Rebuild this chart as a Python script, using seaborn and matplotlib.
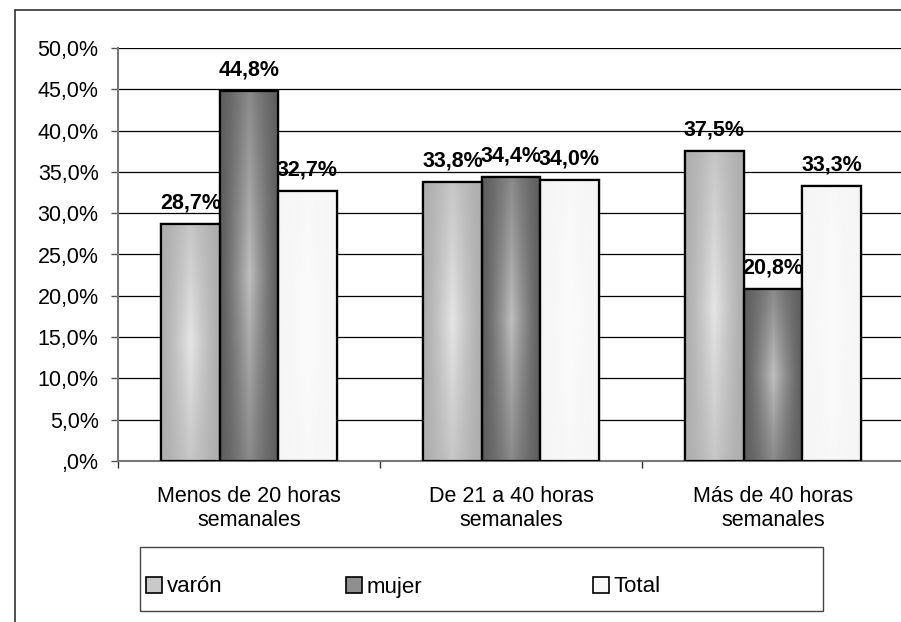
import numpy as np
import pandas as pd
import matplotlib.pyplot as plt
import seaborn as sns
from matplotlib.patches import Rectangle
from matplotlib.lines import Line2D
from matplotlib.ticker import FuncFormatter, FixedLocator

sns.set_theme(style="white")
plt.rcParams["font.family"] = ["Liberation Sans", "DejaVu Sans"]

# --- Daten ---
categories = ["Menos de 20 horas\nsemanales", "De 21 a 40 horas\nsemanales", "Más de 40 horas\nsemanales"]
groups = ["varón", "mujer", "Total"]
varon = [28.7, 33.8, 37.5]
mujer = [44.8, 34.4, 20.8]
total = [32.7, 34.0, 33.3]

df = pd.DataFrame({
    "cat": categories * 3,
    "grupo": [g for g in groups for _ in categories],
    "valor": varon + mujer + total,
})

# (Randfarbe, Mittelfarbe) je Gruppe für den Verlauf
shades = {"varón": (0.68, 0.90), "mujer": (0.37, 0.75), "Total": (0.96, 0.985)}
palette = {g: str(shades[g][0]) for g in groups}

fig = plt.figure(figsize=(9.01, 6.22), dpi=100)
ax = fig.add_axes([118 / 901, 161 / 622, 786 / 901, 413 / 622])

sns.barplot(data=df, x="cat", y="valor", hue="grupo", palette=palette,
            width=0.67, gap=0, edgecolor="black", linewidth=1.6,
            legend=False, ax=ax, zorder=3)


def gradient_img(lo, hi, n=64):
    xx = np.linspace(-1, 1, n)
    yy = np.linspace(-1, 1, n)
    X, Y = np.meshgrid(xx, yy)
    t = (1 - np.abs(X)) * (0.55 + 0.45 * (1 - np.abs(Y)))
    t = np.clip(t, 0, 1) ** 1.3
    return lo + (hi - lo) * t


# Verlauf in die Balken legen
for cont, g in zip(ax.containers, groups):
    lo, hi = shades[g]
    img = gradient_img(lo, hi)
    for bar in cont:
        x0, y0 = bar.get_x(), bar.get_y()
        w, h = bar.get_width(), bar.get_height()
        im = ax.imshow(img, cmap="gray", vmin=0, vmax=1, aspect="auto",
                       extent=[x0, x0 + w, y0, y0 + h], zorder=3.5,
                       interpolation="bilinear")
        im.set_clip_path(bar)
        edge = Rectangle((x0, y0), w, h, fill=False, edgecolor="black",
                         linewidth=1.6, zorder=4)
        ax.add_patch(edge)
    labels = [f"{v:.1f}%".replace(".", ",") for v in cont.datavalues]
    for bar, lab in zip(cont, labels):
        ax.annotate(lab, (bar.get_x() + bar.get_width() / 2, bar.get_height()),
                    xytext=(0, 11), textcoords="offset points", ha="center",
                    va="baseline", fontsize=15.5, fontweight="bold",
                    color="black", zorder=5)

ax.set_xlim(-0.5, 2.5)
ax.set_ylim(0, 50)
ax.yaxis.set_major_locator(FixedLocator(np.arange(0, 50.1, 5)))


def pct(v, pos):
    s = f"{v:.1f}%".replace(".", ",")
    return ",0%" if v == 0 else s


ax.yaxis.set_major_formatter(FuncFormatter(pct))
ax.grid(axis="y", color="black", linewidth=0.9, zorder=0)
ax.set_axisbelow(True)
ax.set_xlabel("")
ax.set_ylabel("")

for s in ["top", "right"]:
    ax.spines[s].set_visible(False)
ax.spines["left"].set_color("#777777")
ax.spines["left"].set_linewidth(1.5)
ax.spines["bottom"].set_color("#777777")
ax.spines["bottom"].set_linewidth(1.5)

ax.tick_params(axis="y", left=True, length=5, width=1, color="#555555",
               labelsize=15.5, pad=9, labelcolor="black")
ax.set_xticks([0, 1, 2])
ax.set_xticklabels(categories)
ax.tick_params(axis="x", which="major", length=0, pad=18, labelsize=15.5,
               labelcolor="black")
ax.set_xticks([-0.5, 0.5, 1.5, 2.5], minor=True)
ax.tick_params(axis="x", which="minor", bottom=True, length=5, width=1,
               color="#333333")

# --- Legende: Rahmen + je ein Eintrag an fester Stelle ---
fig.add_artist(Rectangle((140 / 901, (622 - 611) / 622), 683 / 901, 64 / 622,
                         fill=False, edgecolor="#444444", linewidth=1.0,
                         transform=fig.transFigure))
legend_x = [146, 346, 593]
for g, lx in zip(groups, legend_x):
    h = Rectangle((0, 0), 1, 1, facecolor=str((shades[g][0] + shades[g][1]) / 2),
                  edgecolor="black", linewidth=1.2)
    leg = fig.legend([h], [g], loc="center left",
                     bbox_to_anchor=(lx / 901, (622 - 587) / 622),
                     fontsize=16, frameon=False,
                     handlelength=0.72, handleheight=0.72, handletextpad=0.2,
                     borderpad=0, borderaxespad=0)
    for t in leg.get_texts():
        t.set_color("black")

# äußerer Rahmen
fig.add_artist(Line2D([15 / 901, 15 / 901], [0, 1 - 10 / 622], color="#333333",
                      linewidth=1.2, transform=fig.transFigure))
fig.add_artist(Line2D([15 / 901, 1], [1 - 10 / 622, 1 - 10 / 622], color="#333333",
                      linewidth=1.2, transform=fig.transFigure))

fig.savefig("out.png", dpi=100)
